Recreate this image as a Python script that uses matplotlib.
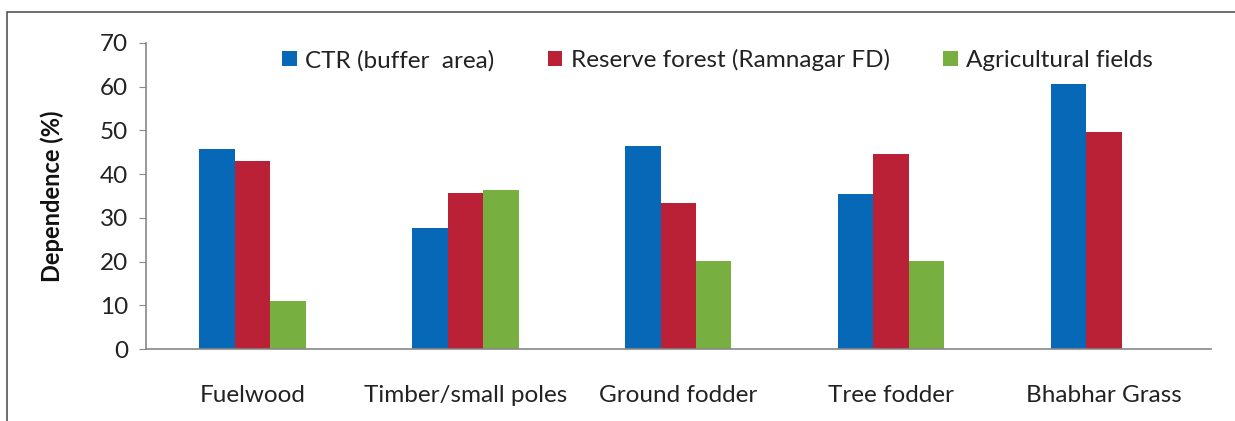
import matplotlib
matplotlib.use("Agg")
import matplotlib.pyplot as plt
import numpy as np
from matplotlib.patches import Rectangle

# data
categories = ["Fuelwood", "Timber/small poles", "Ground fodder", "Tree fodder", "Bhabhar Grass"]
ctr_buffer = [45.8, 27.7, 46.4, 35.5, 60.5]
reserve_forest = [42.9, 35.7, 33.4, 44.7, 49.7]
agri_fields = [11.0, 36.3, 20.2, 20.2, 0.0]
series_names = ["CTR (buffer  area)", "Reserve forest (Ramnagar FD)", "Agricultural fields"]

colors = ["#0868B8", "#BA2137", "#77B041"]
plt.rcParams['font.family'] = ['Lato', 'DejaVu Sans']

fig = plt.figure(figsize=(12.35, 4.21), dpi=100)
ax = fig.add_axes([0.1182, 0.171, 0.862, 0.727])

x = np.arange(len(categories))
w = 1.0 / 6
for i, vals in enumerate([ctr_buffer, reserve_forest, agri_fields]):
    ax.bar(x + (i - 1) * w, vals, width=w, color=colors[i], label=series_names[i])

ax.set_xlim(-0.5, len(categories) - 0.5)
ax.set_ylim(0, 70)
ax.set_yticks(range(0, 71, 10))
ax.set_xticks(x)
ax.set_xticklabels(categories, fontsize=17.5, color='#222222')
ax.tick_params(axis='x', length=0, pad=26)
ax.tick_params(axis='y', length=5, color='#888888', labelsize=17.5, pad=8,
               labelcolor='#222222')

for s in ['top', 'right']:
    ax.spines[s].set_visible(False)
for s in ['left', 'bottom']:
    ax.spines[s].set_color('#888888')
    ax.spines[s].set_linewidth(1.2)

ax.set_ylabel('Dependence (%)', fontsize=17, fontweight='bold', labelpad=26,
              color='#111111')

ax.legend(loc='center', bbox_to_anchor=(0.537, 0.944), ncol=3, frameon=False,
          fontsize=17.5, handlelength=0.6, handleheight=0.6, handletextpad=0.35,
          columnspacing=2.2, labelcolor='#222222')

# outer border of the figure box
fig.patches.append(Rectangle((7 / 1235, -0.1), 1.2, 1 - 12 / 421 + 0.1,
                             transform=fig.transFigure, fill=False,
                             edgecolor='#555555', linewidth=1.2))

fig.savefig('out.png', dpi=100)
